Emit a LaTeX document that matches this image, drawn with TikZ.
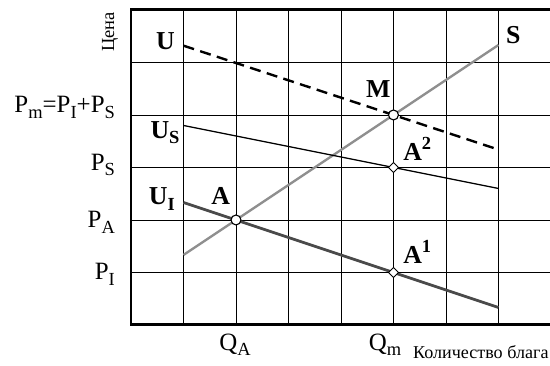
\documentclass[tikz,border=0pt]{standalone}
\usepackage{fontspec}
\setmainfont{Liberation Serif}
\usetikzlibrary{shapes.geometric}
\definecolor{supplygray}{HTML}{8F8F8F}
\definecolor{indivgray}{HTML}{4A4A4A}
\newcommand{\lowidx}[1]{\raisebox{-0.5ex}{\fontsize{10}{11}\selectfont #1}}
\newcommand{\upidx}[1]{\raisebox{0.9ex}{\fontsize{10}{11}\selectfont #1}}

\begin{document}
\begin{tikzpicture}[
    lbl/.style={font=\fontsize{13.5}{15}\selectfont,inner sep=0pt},
    blbl/.style={font=\fontsize{14}{16}\selectfont\bfseries,inner sep=0pt},
    opendot/.style={circle,draw,fill=white,line width=0.6pt,inner sep=0pt,minimum size=5.4pt},
    diadot/.style={diamond,draw,fill=white,line width=0.5pt,inner sep=0pt,minimum size=5.6pt}]
  \useasboundingbox (-2.495,-0.781) rectangle (7.981,6.19);
  % сетка и рамка
  \draw[line width=0.5pt] (0,0) grid (8,6);
  \draw[line width=1.6pt] (0,0) rectangle (8,6);
  % кривые
  \coordinate (S0) at (1,4/3);  \coordinate (S1) at (7,16/3);
  \coordinate (UI0) at (1,7/3); \coordinate (UI1) at (7,1/3);
  \coordinate (US0) at (1,3.8); \coordinate (US1) at (7,2.6);
  \coordinate (U0) at (1,5.32); \coordinate (U1) at (7,3.34);
  \draw[line width=1.3pt,supplygray] (S0) -- (S1);
  \draw[line width=1.5pt,indivgray] (UI0) -- (UI1);
  \draw[line width=0.7pt] (US0) -- (US1);
  \draw[line width=1.3pt,dash pattern=on 6pt off 3.5pt] (U0) -- (U1);
  % точки
  \node[opendot] (A) at (2,2) {};
  \node[opendot] (M) at (5,4) {};
  \node[diadot] (A1) at (5,1) {};
  \node[diadot] (A2) at (5,3) {};
  % подписи кривых и точек
  \node[blbl,anchor=base east] (labU) at (0.84,5.24) {U};
  \node[blbl,anchor=base east] (labUS) at (0.93,3.56) {U\lowidx{S}};
  \node[blbl,anchor=base east] (labUI) at (0.84,2.30) {U\lowidx{I}};
  \node[blbl,anchor=base] (labS) at (7.28,5.37) {S};
  \node[blbl,anchor=base] (labA) at (1.71,2.29) {A};
  \node[blbl,anchor=base] (labM) at (4.71,4.34) {M};
  \node[blbl,anchor=base west] (labA2) at (5.18,3.14) {A\upidx{2}};
  \node[blbl,anchor=base west] (labA1) at (5.18,1.18) {A\upidx{1}};
  % оси
  \node[lbl,anchor=base east] (Pm) at (-0.3,4.04) {P\lowidx{m}=P\lowidx{I}+P\lowidx{S}};
  \node[lbl,anchor=base east] (PS) at (-0.3,2.95) {P\lowidx{S}};
  \node[lbl,anchor=base east] (PA) at (-0.3,1.85) {P\lowidx{A}};
  \node[lbl,anchor=base east] (PI) at (-0.3,0.86) {P\lowidx{I}};
  \node[lbl,anchor=base] (QA) at (1.98,-0.48) {Q\lowidx{A}};
  \node[lbl,anchor=base] (Qm) at (4.84,-0.48) {Q\lowidx{m}};
  \node[font=\fontsize{9.8}{11}\selectfont,inner sep=0pt,anchor=base east] (qty) at (7.96,-0.63) {Количество блага};
  \node[font=\fontsize{10}{11}\selectfont,inner sep=0pt,rotate=90] (price) at (-0.40,5.58) {Цена};
\end{tikzpicture}
\end{document}
